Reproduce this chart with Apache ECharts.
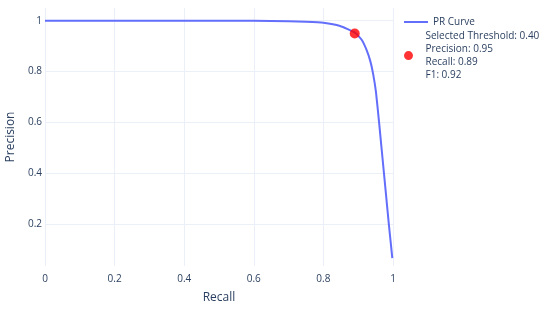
<!DOCTYPE html>
<html>
<head>
<meta charset="utf-8">
<script src="https://cdn.jsdelivr.net/npm/echarts@6/dist/echarts.min.js"></script>
<style>
  html, body { margin: 0; padding: 0; background: #fff; }
  #chart { width: 550px; height: 312px; }
</style>
</head>
<body>
<div id="chart"></div>
<script>
// PR curve
const recall    = [0, 0.1, 0.2, 0.3, 0.4, 0.5, 0.6, 0.7, 0.75, 0.8, 0.848, 0.891, 0.91, 0.924, 0.935, 0.943, 0.951, 0.96, 0.967, 0.974, 0.981, 0.988, 0.994, 0.998]
const precision = [1, 1, 1, 1, 1, 1, 1, 0.998, 0.996, 0.992, 0.979, 0.953, 0.925, 0.885, 0.84, 0.79, 0.72, 0.6, 0.5, 0.4, 0.3, 0.2, 0.12, 0.066]

// selected threshold point
const selThreshold = 0.40
const selPrecision = 0.95
const selRecall = 0.89
const selF1 = 0.92

const xTicks = [0, 0.2, 0.4, 0.6, 0.8, 1]
const yTicks = [0.2, 0.4, 0.6, 0.8, 1]

const fontFamily = '"Open Sans", "DejaVu Sans", sans-serif'
const textColor = '#2a3f5f'
const gridColor = '#ebf0f8'

const selName = 'Selected Threshold: ' + selThreshold.toFixed(2) +
    '\nPrecision: ' + selPrecision.toFixed(2) +
    '\nRecall: ' + selRecall.toFixed(2) +
    '\nF1: ' + selF1.toFixed(2)

const chart = echarts.init(document.getElementById('chart'))

const option = {
    animation: false,
    textStyle: { fontFamily: fontFamily, color: textColor },
    grid: { left: 45, right: 157, top: 8, bottom: 46, containLabel: false, outerBoundsMode: 'none' },
    legend: [
        {
            data: [{ name: 'PR Curve', icon: 'rect' }],
            left: 404, top: 17, padding: 0,
            itemWidth: 24, itemHeight: 2, itemGap: 5,
            textStyle: { fontFamily: fontFamily, color: textColor, fontSize: 10 }
        },
        {
            data: [{ name: selName, icon: 'circle' }],
            left: 404, top: 30, padding: 0,
            itemWidth: 24, itemHeight: 9, itemGap: 5,
            textStyle: { fontFamily: fontFamily, color: textColor, fontSize: 10, lineHeight: 12.8 }
        }
    ],
    xAxis: {
        type: 'value',
        min: 0, max: 1, interval: 0.2,
        name: 'Recall',
        nameLocation: 'middle',
        nameGap: 26,
        nameTextStyle: { fontFamily: fontFamily, color: textColor, fontSize: 12 },
        axisLine: { show: false },
        axisTick: { show: false, customValues: xTicks },
        axisLabel: { customValues: xTicks, color: textColor, fontSize: 10, margin: 8, fontFamily: fontFamily },
        splitLine: { show: true, lineStyle: { color: gridColor, width: 1 } }
    },
    yAxis: {
        type: 'value',
        min: 0.035, max: 1.05,
        name: 'Precision',
        nameLocation: 'middle',
        nameGap: 27,
        nameTextStyle: { fontFamily: fontFamily, color: textColor, fontSize: 12 },
        axisLine: { show: false },
        axisTick: { show: false, customValues: yTicks },
        axisLabel: { customValues: yTicks, color: textColor, fontSize: 10, margin: 3, fontFamily: fontFamily },
        splitLine: { show: true, lineStyle: { color: gridColor, width: 1 } }
    },
    series: [
        {
            name: 'PR Curve',
            type: 'line',
            data: recall.map((r, i) => [r, precision[i]]),
            symbol: 'none',
            smooth: 0.15,
            lineStyle: { color: '#636efa', width: 2 },
            itemStyle: { color: '#636efa' }
        },
        {
            name: selName,
            type: 'scatter',
            data: [[selRecall, selPrecision]],
            symbolSize: 10,
            itemStyle: { color: '#ff0000' },
            z: 5
        }
    ]
}

chart.setOption(option)
</script>
</body>
</html>
